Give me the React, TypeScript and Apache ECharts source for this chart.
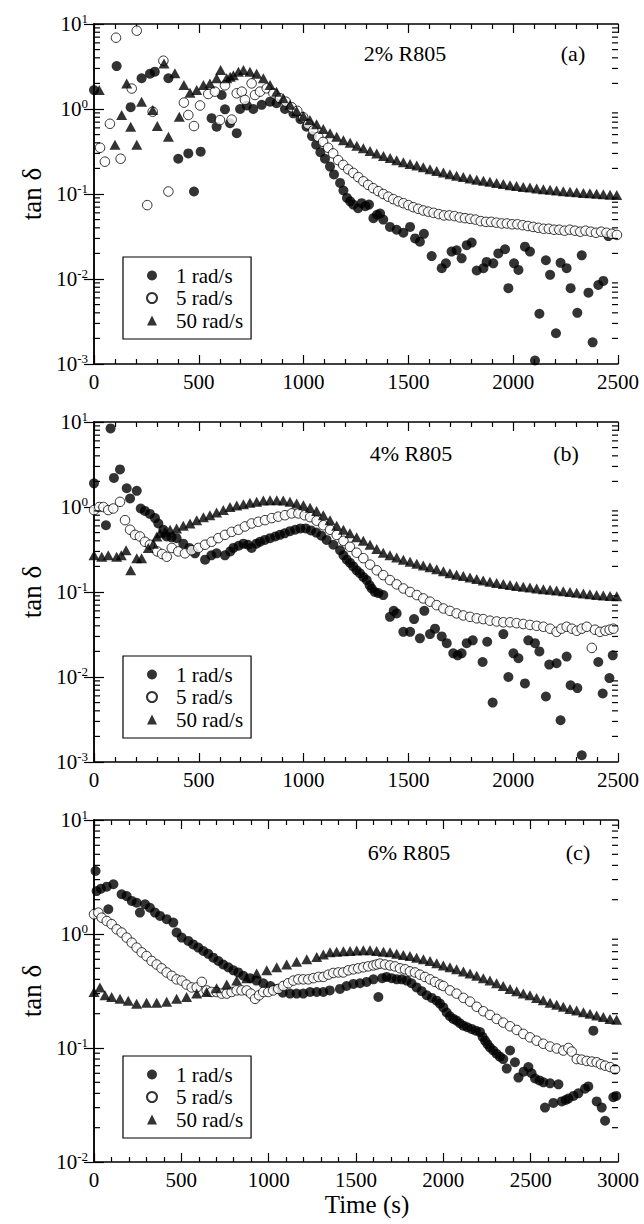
import { useEffect, useRef } from 'react';
import * as echarts from 'echarts';

const SERIF = '"Liberation Serif", "DejaVu Serif", serif';

const seriesNames = ['1 rad/s', '5 rad/s', '50 rad/s'];
const panelLabels = ['2% R805', '4% R805', '6% R805'];
const panelTags = ['(a)', '(b)', '(c)'];
const timeMax = [2500, 2500, 3000];
const tanMin = [0.001, 0.001, 0.01];
const tanMax = [10, 10, 10];
const timeStep = 500;
const minorMultipliers = [2, 3, 4, 5, 6, 7, 8, 9];

// panel (a) 2% R805 : [time s, tan delta]
const a1 = [
  [0, 1.67], [108, 3.2], [175, 1.05], [227, 2.3], [267, 2.6], [290, 2.75], [355, 2.3], [402, 0.26],
  [450, 0.3], [477, 0.107], [509, 0.315], [561, 0.78], [585, 0.62], [609, 1.46], [625, 0.99], [649, 0.68],
  [681, 0.52], [697, 1.0], [729, 1.1], [760, 1.0], [800, 1.12], [840, 1.22], [871, 1.17], [911, 1.0],
  [951, 0.89], [985, 0.76], [1014, 0.62], [1040, 0.48], [1060, 0.38], [1080, 0.31], [1102, 0.26],
  [1126, 0.21], [1145, 0.17], [1174, 0.135], [1190, 0.11], [1207, 0.09], [1222, 0.082], [1237, 0.075],
  [1260, 0.068], [1277, 0.078], [1295, 0.072], [1312, 0.075], [1333, 0.052], [1350, 0.057], [1365, 0.059],
  [1380, 0.05], [1412, 0.041], [1444, 0.038], [1476, 0.035], [1508, 0.041], [1532, 0.03], [1555, 0.0275],
  [1574, 0.034], [1611, 0.0186], [1659, 0.0134], [1679, 0.0153], [1706, 0.021], [1730, 0.0218],
  [1754, 0.0175], [1778, 0.025], [1802, 0.0268], [1826, 0.0126], [1858, 0.0134], [1873, 0.0159],
  [1905, 0.0153], [1929, 0.02], [1961, 0.0224], [1977, 0.0078], [2004, 0.0153], [2025, 0.0128],
  [2056, 0.024], [2080, 0.021], [2104, 0.0011], [2125, 0.0039], [2156, 0.0166], [2176, 0.0112],
  [2204, 0.0023], [2226, 0.0155], [2255, 0.0134], [2274, 0.0078], [2306, 0.004], [2327, 0.019],
  [2359, 0.0069], [2379, 0.0018], [2406, 0.0085], [2430, 0.0095], [2454, 0.032],
];
const a5 = [
  [29, 0.35], [52, 0.24], [76, 0.67], [105, 6.9], [127, 0.26], [180, 1.74], [204, 8.35], [254, 0.074],
  [280, 0.93], [331, 3.7], [355, 0.107], [429, 1.19], [450, 0.85], [477, 0.63], [506, 1.1], [545, 1.5],
  [577, 1.6], [601, 0.74], [625, 1.9], [657, 0.75], [681, 1.53], [705, 1.6], [720, 1.28], [752, 2.0],
  [768, 1.46], [792, 1.6], [824, 1.75], [856, 1.53], [887, 1.34], [915, 1.22], [943, 1.05], [970, 0.95],
  [998, 0.8], [1022, 0.66], [1046, 0.56], [1070, 0.47], [1093, 0.41], [1117, 0.35], [1141, 0.3],
  [1165, 0.25], [1189, 0.22], [1213, 0.195], [1237, 0.177], [1261, 0.158], [1285, 0.141], [1308, 0.128],
  [1332, 0.117], [1356, 0.108], [1380, 0.1], [1404, 0.093], [1428, 0.087], [1452, 0.082], [1476, 0.078],
  [1500, 0.074], [1523, 0.07], [1547, 0.067], [1571, 0.064], [1595, 0.062], [1620, 0.06], [1645, 0.058],
  [1670, 0.056], [1695, 0.056], [1720, 0.055], [1745, 0.053], [1770, 0.052], [1795, 0.051], [1820, 0.05],
  [1845, 0.048], [1870, 0.047], [1895, 0.047], [1920, 0.046], [1945, 0.045], [1970, 0.045], [1995, 0.044],
  [2020, 0.044], [2045, 0.043], [2070, 0.042], [2095, 0.041], [2120, 0.04], [2145, 0.039], [2170, 0.039],
  [2195, 0.038], [2220, 0.038], [2245, 0.037], [2270, 0.038], [2295, 0.037], [2320, 0.036], [2345, 0.037],
  [2370, 0.036], [2395, 0.035], [2420, 0.036], [2445, 0.035], [2470, 0.034], [2495, 0.033],
];
const a50 = [
  [25, 1.67], [100, 0.38], [132, 0.85], [156, 2.0], [175, 0.62], [204, 0.38], [227, 1.22], [280, 0.97],
  [302, 0.63], [334, 3.44], [355, 0.47], [386, 2.63], [407, 0.81], [429, 1.91], [458, 1.55], [490, 1.67],
  [522, 1.91], [553, 2.0], [585, 2.3], [604, 2.88], [633, 2.3], [650, 2.4], [665, 2.5], [689, 2.75],
  [713, 2.88], [744, 2.75], [776, 2.6], [808, 2.3], [840, 1.91], [871, 1.6], [903, 1.34], [935, 1.12],
  [967, 0.95], [999, 0.83], [1030, 0.74], [1062, 0.66], [1094, 0.58], [1126, 0.52], [1158, 0.47],
  [1190, 0.43], [1222, 0.4], [1254, 0.37], [1285, 0.345], [1317, 0.32], [1349, 0.3], [1381, 0.28],
  [1413, 0.265], [1444, 0.25], [1476, 0.237], [1508, 0.226], [1540, 0.216], [1571, 0.206], [1603, 0.196],
  [1635, 0.187], [1667, 0.179], [1698, 0.171], [1730, 0.164], [1762, 0.158], [1794, 0.152], [1826, 0.147],
  [1858, 0.143], [1889, 0.139], [1921, 0.135], [1953, 0.131], [1985, 0.127], [2016, 0.124], [2048, 0.121],
  [2080, 0.119], [2112, 0.116], [2144, 0.114], [2176, 0.112], [2207, 0.11], [2239, 0.108], [2271, 0.106],
  [2303, 0.105], [2335, 0.103], [2366, 0.102], [2398, 0.101], [2430, 0.099], [2462, 0.098], [2494, 0.097],
];

// panel (b) 4% R805
const b1 = [
  [0, 1.9], [57, 0.61], [79, 8.4], [95, 2.2], [124, 2.77], [156, 1.66], [172, 1.26], [204, 1.55],
  [223, 0.96], [243, 0.9], [267, 0.83], [291, 0.74], [307, 0.64], [331, 0.54], [347, 0.45], [370, 0.44],
  [394, 0.43], [426, 0.37], [455, 0.33], [482, 0.285], [530, 0.24], [560, 0.27], [585, 0.285], [625, 0.27],
  [650, 0.3], [665, 0.33], [690, 0.35], [713, 0.37], [735, 0.36], [752, 0.33], [775, 0.37], [792, 0.39],
  [815, 0.41], [840, 0.43], [865, 0.45], [887, 0.47], [910, 0.49], [935, 0.52], [960, 0.54], [985, 0.56],
  [1010, 0.56], [1035, 0.53], [1060, 0.5], [1085, 0.46], [1110, 0.41], [1142, 0.36], [1174, 0.31],
  [1190, 0.27], [1206, 0.24], [1222, 0.22], [1237, 0.2], [1253, 0.18], [1269, 0.166], [1285, 0.15],
  [1301, 0.138], [1315, 0.12], [1325, 0.11], [1340, 0.1], [1357, 0.097], [1380, 0.092], [1412, 0.051],
  [1430, 0.06], [1444, 0.056], [1476, 0.034], [1508, 0.034], [1527, 0.048], [1555, 0.0285], [1576, 0.06],
  [1603, 0.032], [1627, 0.037], [1659, 0.03], [1683, 0.025], [1714, 0.019], [1735, 0.018], [1754, 0.019],
  [1778, 0.025], [1807, 0.027], [1854, 0.015], [1876, 0.026], [1902, 0.005], [1953, 0.032], [1977, 0.01],
  [2001, 0.019], [2025, 0.0166], [2056, 0.0084], [2072, 0.027], [2104, 0.025], [2125, 0.02],
  [2156, 0.0059], [2172, 0.014], [2207, 0.0145], [2226, 0.0031], [2255, 0.0174], [2274, 0.008],
  [2306, 0.0074], [2327, 0.0012], [2406, 0.015], [2427, 0.0064], [2459, 0.0097], [2475, 0.018],
];
const b5 = [
  [0, 0.92], [25, 1.0], [45, 1.0], [68, 0.92], [92, 0.96], [124, 1.15], [148, 0.7], [172, 0.54],
  [196, 0.47], [219, 0.45], [243, 0.39], [267, 0.36], [302, 0.3], [325, 0.28], [347, 0.26], [371, 0.33],
  [402, 0.3], [434, 0.285], [466, 0.31], [498, 0.33], [530, 0.36], [561, 0.39], [593, 0.43], [625, 0.47],
  [657, 0.51], [689, 0.54], [720, 0.59], [752, 0.64], [784, 0.67], [816, 0.7], [848, 0.74], [879, 0.77],
  [911, 0.8], [943, 0.84], [975, 0.84], [1005, 0.8], [1031, 0.76], [1062, 0.69], [1094, 0.61],
  [1126, 0.54], [1158, 0.47], [1190, 0.4], [1221, 0.34], [1253, 0.29], [1285, 0.25], [1317, 0.21],
  [1349, 0.18], [1380, 0.158], [1412, 0.138], [1444, 0.123], [1476, 0.11], [1508, 0.1], [1540, 0.092],
  [1571, 0.084], [1603, 0.077], [1635, 0.07], [1667, 0.064], [1698, 0.06], [1730, 0.056], [1762, 0.053],
  [1794, 0.051], [1826, 0.049], [1857, 0.048], [1889, 0.046], [1921, 0.045], [1953, 0.044], [1985, 0.044],
  [2016, 0.043], [2048, 0.042], [2080, 0.041], [2112, 0.04], [2144, 0.039], [2176, 0.037], [2207, 0.034],
  [2230, 0.037], [2255, 0.039], [2280, 0.037], [2303, 0.035], [2327, 0.037], [2351, 0.039], [2375, 0.022],
  [2390, 0.036], [2414, 0.034], [2440, 0.035], [2460, 0.036], [2478, 0.037],
];
const b50 = [
  [0, 0.27], [37, 0.26], [68, 0.27], [108, 0.26], [130, 0.27], [153, 0.31], [175, 0.18], [204, 0.25],
  [227, 0.25], [259, 0.33], [283, 0.37], [300, 0.45], [315, 0.49], [339, 0.51], [363, 0.54], [394, 0.56],
  [426, 0.6], [458, 0.64], [490, 0.7], [522, 0.76], [553, 0.8], [585, 0.86], [617, 0.92], [649, 1.0],
  [681, 1.04], [713, 1.08], [744, 1.12], [776, 1.15], [808, 1.19], [840, 1.2], [872, 1.2], [903, 1.19],
  [935, 1.15], [967, 1.1], [999, 1.05], [1031, 0.98], [1062, 0.9], [1094, 0.8], [1126, 0.7], [1158, 0.6],
  [1190, 0.54], [1221, 0.49], [1253, 0.44], [1285, 0.4], [1317, 0.36], [1349, 0.32], [1380, 0.29],
  [1412, 0.27], [1444, 0.255], [1476, 0.24], [1508, 0.227], [1540, 0.215], [1571, 0.205], [1603, 0.195],
  [1635, 0.185], [1667, 0.175], [1698, 0.166], [1730, 0.16], [1762, 0.154], [1794, 0.148], [1826, 0.142],
  [1857, 0.137], [1889, 0.132], [1921, 0.128], [1953, 0.124], [1985, 0.121], [2016, 0.118], [2048, 0.115],
  [2080, 0.113], [2112, 0.11], [2144, 0.108], [2176, 0.106], [2207, 0.104], [2239, 0.102], [2271, 0.1],
  [2303, 0.098], [2335, 0.096], [2366, 0.094], [2398, 0.092], [2430, 0.091], [2462, 0.09], [2494, 0.089],
];

// panel (c) 6% R805
const c1 = [
  [9, 3.57], [15, 2.38], [40, 2.5], [73, 2.6], [82, 1.65], [111, 2.73], [158, 2.23], [187, 2.15],
  [216, 1.95], [244, 1.88], [263, 1.54], [292, 1.82], [320, 1.7], [349, 1.54], [378, 1.44], [416, 1.35],
  [454, 1.26], [473, 1.03], [502, 0.93], [540, 0.87], [568, 0.81], [597, 0.76], [626, 0.71], [654, 0.67],
  [683, 0.62], [712, 0.58], [740, 0.54], [769, 0.51], [798, 0.48], [826, 0.46], [855, 0.43], [893, 0.41],
  [930, 0.39], [969, 0.37], [1010, 0.35], [1046, 0.33], [1081, 0.305], [1122, 0.3], [1160, 0.3],
  [1198, 0.3], [1237, 0.31], [1275, 0.31], [1313, 0.31], [1350, 0.32], [1408, 0.33], [1446, 0.35],
  [1485, 0.365], [1523, 0.37], [1561, 0.38], [1600, 0.4], [1628, 0.28], [1650, 0.41], [1675, 0.42],
  [1704, 0.41], [1733, 0.4], [1762, 0.4], [1790, 0.39], [1818, 0.37], [1847, 0.34], [1876, 0.315],
  [1905, 0.29], [1934, 0.275], [1962, 0.26], [1981, 0.245], [2000, 0.227], [2019, 0.205], [2038, 0.19],
  [2057, 0.18], [2076, 0.174], [2095, 0.165], [2115, 0.157], [2138, 0.152], [2162, 0.147], [2186, 0.142],
  [2210, 0.138], [2225, 0.125], [2239, 0.116], [2253, 0.108], [2267, 0.101], [2286, 0.095], [2305, 0.089],
  [2324, 0.084], [2343, 0.08], [2363, 0.066], [2382, 0.095], [2410, 0.075], [2430, 0.055], [2460, 0.062],
  [2487, 0.068], [2505, 0.06], [2525, 0.054], [2550, 0.052], [2573, 0.05], [2582, 0.03], [2611, 0.049],
  [2630, 0.033], [2659, 0.048], [2678, 0.034], [2700, 0.035], [2716, 0.036], [2745, 0.038], [2773, 0.04],
  [2811, 0.044], [2830, 0.046], [2859, 0.142], [2878, 0.034], [2907, 0.03], [2926, 0.023], [2973, 0.037],
  [2990, 0.038],
];
const c5 = [
  [0, 1.49], [25, 1.54], [44, 1.39], [73, 1.3], [101, 1.22], [130, 1.1], [158, 1.03], [187, 0.93],
  [216, 0.84], [244, 0.76], [273, 0.69], [301, 0.64], [330, 0.58], [359, 0.54], [387, 0.5], [416, 0.46],
  [445, 0.43], [473, 0.4], [502, 0.39], [530, 0.36], [559, 0.34], [588, 0.34], [617, 0.38], [645, 0.32],
  [673, 0.31], [702, 0.31], [731, 0.3], [760, 0.3], [788, 0.31], [817, 0.32], [845, 0.32], [874, 0.32],
  [898, 0.3], [922, 0.27], [945, 0.29], [969, 0.31], [998, 0.31], [1026, 0.32], [1055, 0.33], [1084, 0.35],
  [1112, 0.37], [1141, 0.39], [1170, 0.4], [1198, 0.4], [1227, 0.4], [1256, 0.41], [1285, 0.42],
  [1313, 0.42], [1342, 0.44], [1370, 0.455], [1399, 0.46], [1427, 0.46], [1456, 0.48], [1485, 0.49],
  [1513, 0.5], [1542, 0.51], [1570, 0.52], [1599, 0.53], [1618, 0.54], [1637, 0.55], [1666, 0.54],
  [1695, 0.53], [1723, 0.52], [1752, 0.5], [1781, 0.49], [1809, 0.47], [1838, 0.46], [1866, 0.44],
  [1895, 0.42], [1924, 0.4], [1952, 0.38], [1981, 0.36], [2000, 0.35], [2038, 0.32], [2076, 0.3],
  [2115, 0.275], [2153, 0.255], [2191, 0.23], [2229, 0.21], [2267, 0.195], [2305, 0.18], [2343, 0.167],
  [2382, 0.155], [2420, 0.144], [2458, 0.133], [2496, 0.124], [2534, 0.116], [2572, 0.109], [2611, 0.103],
  [2649, 0.099], [2687, 0.095], [2716, 0.1], [2735, 0.093], [2764, 0.08], [2792, 0.079], [2821, 0.077],
  [2850, 0.076], [2878, 0.075], [2902, 0.072], [2926, 0.07], [2955, 0.068], [2983, 0.065],
];
const c50 = [
  [0, 0.31], [34, 0.34], [63, 0.29], [101, 0.28], [149, 0.27], [196, 0.26], [244, 0.245], [301, 0.25],
  [359, 0.25], [416, 0.255], [473, 0.27], [530, 0.28], [588, 0.3], [645, 0.31], [702, 0.335], [760, 0.36],
  [817, 0.39], [874, 0.41], [931, 0.45], [989, 0.48], [1046, 0.51], [1103, 0.54], [1160, 0.57],
  [1218, 0.6], [1275, 0.63], [1313, 0.66], [1351, 0.69], [1389, 0.7], [1428, 0.705], [1466, 0.71],
  [1504, 0.715], [1542, 0.72], [1580, 0.72], [1618, 0.71], [1657, 0.7], [1695, 0.69], [1733, 0.67],
  [1771, 0.655], [1809, 0.64], [1847, 0.62], [1886, 0.6], [1924, 0.58], [1962, 0.555], [2000, 0.53],
  [2038, 0.51], [2076, 0.49], [2115, 0.47], [2153, 0.45], [2191, 0.43], [2229, 0.41], [2267, 0.39],
  [2305, 0.37], [2343, 0.35], [2382, 0.33], [2420, 0.315], [2458, 0.3], [2496, 0.29], [2534, 0.275],
  [2572, 0.262], [2611, 0.25], [2649, 0.24], [2687, 0.23], [2725, 0.22], [2763, 0.213], [2802, 0.206],
  [2840, 0.2], [2878, 0.193], [2916, 0.187], [2954, 0.18], [2992, 0.177],
];

const panelData = [
  [a1, a5, a50],
  [b1, b5, b50],
  [c1, c5, c50],
];

// layout
const grids = [
  { left: 94, top: 24, width: 524, height: 340 },
  { left: 94, top: 422, width: 524, height: 340 },
  { left: 94, top: 820, width: 524, height: 342 },
];
const legendTops = [257, 656, 1056];
const labelPos = [
  { lx: 405, tx: 573, y: 53 },
  { lx: 411, tx: 566, y: 453 },
  { lx: 409, tx: 578, y: 852 },
];

const markerStyles = [
  { symbol: 'circle', symbolSize: 10, itemStyle: { color: '#000' } },
  { symbol: 'circle', symbolSize: 9.5, itemStyle: { color: '#fff', borderColor: '#000', borderWidth: 1 } },
  { symbol: 'triangle', symbolSize: [11, 10], itemStyle: { color: '#000' } },
];

const black = '#000';

function xAxes(i: number) {
  const common = {
    type: 'value',
    gridIndex: i,
    min: 0,
    max: timeMax[i],
    interval: timeStep,
    axisLine: { lineStyle: { color: black, width: 1.5 } },
    axisTick: { inside: true, length: 9, lineStyle: { color: black, width: 1.2 } },
    minorTick: { show: true, splitNumber: 5, length: 5, lineStyle: { color: black, width: 1.2 } },
    splitLine: { show: false },
  };
  const bottom: any = {
    ...common,
    position: 'bottom',
    axisLabel: {
      color: black,
      fontFamily: SERIF,
      fontSize: 21,
      margin: 7,
      formatter: (v: number) => String(v),
    },
  };
  if (i === 2) {
    bottom.name = 'Time (s)';
    bottom.nameLocation = 'middle';
    bottom.nameGap = 30;
    bottom.nameTextStyle = { color: black, fontFamily: SERIF, fontSize: 25, padding: [0, 0, 0, 22] };
  }
  const top = { ...common, position: 'top', axisLabel: { show: false } };
  return [bottom, top];
}

function yAxes(i: number) {
  const decades = Math.round(Math.log10(tanMax[i] / tanMin[i]));
  const common = {
    type: 'log',
    logBase: 10,
    gridIndex: i,
    min: tanMin[i],
    max: tanMax[i],
    splitNumber: decades,
    axisLine: { lineStyle: { color: black, width: 1.5 } },
    axisTick: { inside: true, length: 10, lineStyle: { color: black, width: 1.2 } },
    splitLine: { show: false },
  };
  const left = {
    ...common,
    position: 'left',
    name: 'tan δ',
    nameLocation: 'middle',
    nameGap: 41,
    nameTextStyle: { color: black, fontFamily: SERIF, fontSize: 27 },
    axisLabel: {
      margin: 6,
      formatter: (v: number) => `{b|10}{s|${Math.round(Math.log10(v))}}`,
      rich: {
        b: { color: black, fontFamily: SERIF, fontSize: 21 },
        s: { color: black, fontFamily: SERIF, fontSize: 13, padding: [0, 0, 11, 0] },
      },
    },
  };
  const right = { ...common, position: 'right', axisLabel: { show: false } };
  return [left, right];
}

function minorLogTicks(i: number) {
  const lo = Math.round(Math.log10(tanMin[i]));
  const hi = Math.round(Math.log10(tanMax[i]));
  const vals: number[][] = [];
  for (let e = lo; e < hi; e++) {
    minorMultipliers.forEach((m) => vals.push([0, m * Math.pow(10, e)]));
  }
  return vals;
}

export default function App() {
  const elRef = useRef<HTMLDivElement | null>(null);

  useEffect(() => {
    document.body.style.margin = '0';
    if (!elRef.current) return;
    const chart = echarts.init(elRef.current, undefined, { renderer: 'svg' });

    const series: any[] = [];
    panelData.forEach((sets, i) => {
      sets.forEach((data, k) => {
        series.push({
          type: 'scatter',
          name: seriesNames[k],
          xAxisIndex: i * 2,
          yAxisIndex: i * 2,
          data,
          ...markerStyles[k],
          emphasis: { disabled: true },
          z: 3 + k,
        });
      });
      series.push({
        type: 'custom',
        name: `minor-${i}`,
        xAxisIndex: i * 2,
        yAxisIndex: i * 2,
        silent: true,
        clip: false,
        z: 10,
        data: minorLogTicks(i),
        renderItem: (params: any, api: any) => {
          const cs = params.coordSys;
          const y = api.coord([api.value(0), api.value(1)])[1];
          const st = { stroke: black, lineWidth: 1.2 };
          return {
            type: 'group',
            children: [
              { type: 'line', shape: { x1: cs.x, y1: y, x2: cs.x + 6, y2: y }, style: st },
              { type: 'line', shape: { x1: cs.x + cs.width - 6, y1: y, x2: cs.x + cs.width, y2: y }, style: st },
            ],
          };
        },
      });
    });

    const graphic: any[] = [];
    labelPos.forEach((p, i) => {
      graphic.push({
        type: 'text',
        x: p.lx,
        y: p.y,
        style: { text: panelLabels[i], fill: black, fontFamily: SERIF, fontSize: 22, align: 'center', verticalAlign: 'middle' },
      });
      graphic.push({
        type: 'text',
        x: p.tx,
        y: p.y,
        style: { text: panelTags[i], fill: black, fontFamily: SERIF, fontSize: 22, align: 'center', verticalAlign: 'middle' },
      });
    });

    chart.setOption({
      animation: false,
      backgroundColor: '#fff',
      grid: grids,
      xAxis: [0, 1, 2].flatMap((i) => xAxes(i)),
      yAxis: [0, 1, 2].flatMap((i) => yAxes(i)),
      legend: legendTops.map((top) => ({
        data: seriesNames,
        orient: 'vertical',
        left: 123,
        top,
        padding: [8, 8, 8, 23],
        itemGap: 1.5,
        itemWidth: 10,
        itemHeight: 10,
        borderColor: black,
        borderWidth: 1.2,
        selectedMode: false,
        textStyle: {
          color: black,
          fontFamily: SERIF,
          fontSize: 21,
          lineHeight: 21,
          padding: [0, 0, 0, 14],
        },
      })),
      graphic,
      series,
    });

    return () => {
      chart.dispose();
    };
  }, []);

  return <div ref={elRef} style={{ width: 644, height: 1224 }} />;
}
